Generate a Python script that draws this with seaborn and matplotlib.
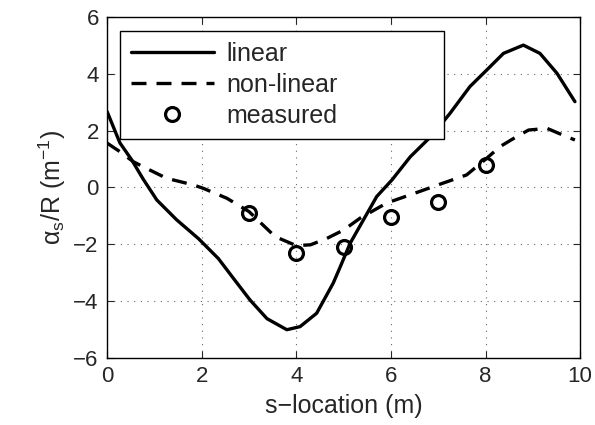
import numpy as np
import pandas as pd
import matplotlib
matplotlib.use("Agg")
import matplotlib.pyplot as plt
import seaborn as sns

# Courbes
s_linear = [0.0, 0.27, 0.52, 0.76, 1.05, 1.47, 1.93, 2.35, 2.67, 3.02, 3.38, 3.8,
            4.08, 4.43, 4.78, 4.93, 5.14, 5.42, 5.7, 6.02, 6.41, 6.88, 7.25, 7.67,
            8.03, 8.38, 8.8, 9.15, 9.51, 9.89]
a_linear = [2.67, 1.57, 0.97, 0.3, -0.44, -1.14, -1.8, -2.5, -3.2, -3.96, -4.62,
            -5.01, -4.9, -4.43, -3.37, -2.79, -1.96, -1.14, -0.32, 0.26, 1.08, 1.85,
            2.61, 3.55, 4.14, 4.72, 5.01, 4.72, 4.02, 3.02]

s_nonlin = [0.0, 0.27, 0.55, 0.76, 1.26, 1.82, 2.03, 2.53, 3.0, 3.55, 4.0, 4.3,
            4.64, 5.0, 5.35, 5.91, 6.51, 7.1, 7.6, 8.0, 8.31, 8.66, 8.91, 9.3, 9.54, 9.89]
a_nonlin = [1.56, 1.26, 0.91, 0.73, 0.32, 0.09, -0.03, -0.38, -0.85, -1.73, -2.05,
            -2.02, -1.8, -1.5, -1.08, -0.55, -0.2, 0.15, 0.44, 0.99, 1.44, 1.79, 2.02,
            2.08, 1.91, 1.67]

s_meas = [3, 4, 5, 6, 7, 8]
a_meas = [-0.91, -2.32, -2.08, -1.03, -0.5, 0.79]

sns.set_style("ticks")
plt.rcParams['font.family'] = ['Liberation Sans', 'DejaVu Sans']
plt.rcParams['mathtext.fontset'] = 'custom'
plt.rcParams['mathtext.rm'] = 'Liberation Sans'
plt.rcParams['mathtext.it'] = 'Liberation Sans:italic'

fig = plt.figure(figsize=(5.95, 4.25), dpi=100)
ax = fig.add_axes([0.18, 0.158, 0.795, 0.802])

sns.lineplot(x=s_linear, y=a_linear, ax=ax, color='black', lw=2.4, label='linear',
             sort=False, solid_joinstyle='round', solid_capstyle='round')
sns.lineplot(x=s_nonlin, y=a_nonlin, ax=ax, color='black', lw=2.4, sort=False,
             dashes=False, linestyle=(0, (4.5, 3)), label='non-linear')
sns.lineplot(x=s_meas, y=a_meas, ax=ax, color='black', linestyle='none', marker='o',
             markersize=10, markerfacecolor='none', markeredgecolor='black',
             markeredgewidth=2.3, label='measured')

ax.set_xlim(0, 10)
ax.set_ylim(-6, 6)
ax.set_xticks([0, 2, 4, 6, 8, 10])
ax.set_yticks([-6, -4, -2, 0, 2, 4, 6])
ax.grid(True, linestyle=(0, (1, 5)), color='black', lw=0.8, alpha=0.6)
ax.tick_params(direction='in', top=True, right=True, labelsize=16, length=5,
               width=0.8, pad=6)
for sp in ax.spines.values():
    sp.set_linewidth(1.0)
    sp.set_color('black')

ax.set_xlabel('s\u2212location (m)', fontsize=18, labelpad=5)
ax.set_ylabel(r'$\mathrm{\alpha_s}$/R (m$^{-1}$)', fontsize=18, labelpad=4)

leg = ax.legend(loc='upper left', bbox_to_anchor=(0.027, 0.651, 0.685, 0.308),
                mode='expand', fontsize=18, handlelength=3.3, handletextpad=0.5,
                labelspacing=0.28, borderaxespad=0, frameon=True, fancybox=False,
                framealpha=1, borderpad=0.45)
leg.get_frame().set_edgecolor('black')
leg.get_frame().set_linewidth(1.0)

fig.savefig('out.png', dpi=100)
